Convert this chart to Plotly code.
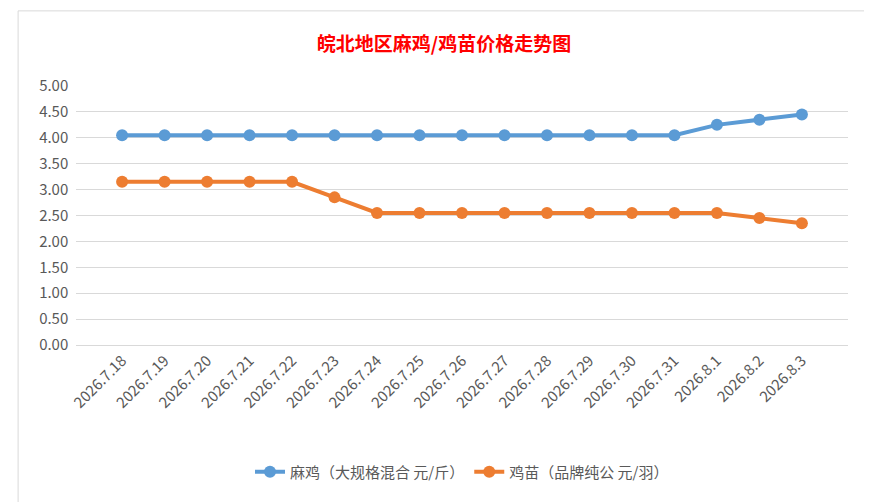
import plotly.graph_objects as go

dates = ["2026.7.18", "2026.7.19", "2026.7.20", "2026.7.21", "2026.7.22", "2026.7.23",
         "2026.7.24", "2026.7.25", "2026.7.26", "2026.7.27", "2026.7.28", "2026.7.29",
         "2026.7.30", "2026.7.31", "2026.8.1", "2026.8.2", "2026.8.3"]
maji = [4.05] * 14 + [4.25, 4.35, 4.45]
jimiao = [3.15, 3.15, 3.15, 3.15, 3.15, 2.85, 2.55, 2.55, 2.55, 2.55, 2.55, 2.55,
          2.55, 2.55, 2.55, 2.45, 2.35]

font = "Noto Sans CJK SC"
fig = go.Figure()
fig.add_trace(go.Scatter(x=dates, y=maji, name="麻鸡（大规格混合 元/斤）", mode="lines+markers",
                         line=dict(color="#5B9BD5", width=4), marker=dict(size=12, color="#5B9BD5")))
fig.add_trace(go.Scatter(x=dates, y=jimiao, name="鸡苗（品牌纯公 元/羽）", mode="lines+markers",
                         line=dict(color="#ED7D31", width=4), marker=dict(size=12, color="#ED7D31")))

fig.update_layout(
    width=872, height=502,
    paper_bgcolor="white", plot_bgcolor="white",
    margin=dict(l=68, r=32, t=78, b=165),
    title=dict(text="<b>皖北地区麻鸡/鸡苗价格走势图</b>", x=0.5, y=0.94,
               font=dict(family=font, size=19, color="#FF0000")),
    font=dict(family=font, size=15, color="#595959"),
    legend=dict(orientation="h", x=0.5, xanchor="center", y=-0.49, yanchor="middle",
                font=dict(size=15, color="#595959")),
    xaxis=dict(tickangle=-45, showgrid=False, showline=True, linecolor="#D9D9D9",
               tickfont=dict(size=15), automargin=False),
    yaxis=dict(range=[0, 5], dtick=0.5, tickformat=".2f", gridcolor="#D9D9D9",
               zeroline=False, ticksuffix="  ", tickfont=dict(size=15), automargin=False),
    shapes=[dict(type="rect", xref="paper", yref="paper", x0=-0.075, x1=1.037, y0=-0.63, y1=1.29,
                 line=dict(color="#D9D9D9", width=1))],
)
fig.write_html("out.html")
